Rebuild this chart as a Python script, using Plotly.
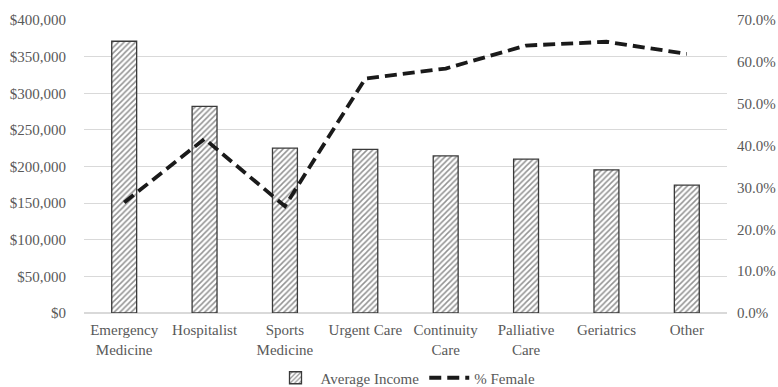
import plotly.graph_objects as go

# Specialty categories (line breaks as drawn under the axis)
specialties = ["Emergency<br>Medicine", "Hospitalist", "Sports<br>Medicine", "Urgent Care",
               "Continuity<br>Care", "Palliative<br>Care", "Geriatrics", "Other"]
avg_income = [371000, 282000, 225000, 223500, 214500, 210000, 195500, 174500]
pct_female = [0.264, 0.416, 0.255, 0.560, 0.584, 0.639, 0.648, 0.619]

income_ticks = list(range(0, 400001, 50000))
income_labels = ["$" + format(v, ",") for v in income_ticks]
pct_ticks = [i / 10 for i in range(0, 8)]
pct_labels = [f"{v*100:.1f}%" for v in pct_ticks]

GRAY_TEXT = "#595959"
FONT = "Liberation Serif, Times New Roman, serif"
FS = 15

fig = go.Figure()

fig.add_trace(go.Bar(
    x=specialties, y=avg_income, name="Average Income",
    marker=dict(
        color="white",
        line=dict(color="#3a3a3a", width=1.3),
        pattern=dict(shape="/", size=4, solidity=0.38, fgcolor="#262626", bgcolor="white"),
    ),
    yaxis="y",
))

fig.add_trace(go.Scatter(
    x=specialties, y=pct_female, name="% Female", mode="lines",
    line=dict(color="#1a1a1a", width=3.8, dash="12px,6px"),
    yaxis="y2",
))

fig.update_layout(
    width=778, height=387,
    margin=dict(l=84, r=51, t=20, b=74, autoexpand=False),
    paper_bgcolor="white", plot_bgcolor="white",
    font=dict(family=FONT, size=FS, color=GRAY_TEXT),
    bargap=0.69,
    showlegend=True,
    legend=dict(orientation="h", x=0.5, xanchor="center",
                yref="container", y=9 / 387, yanchor="middle",
                font=dict(family=FONT, size=FS, color=GRAY_TEXT),
                itemwidth=40, tracegroupgap=0),
    xaxis=dict(showgrid=False, showline=False, ticks="", ticklabelstandoff=6,
               tickfont=dict(family=FONT, size=FS, color=GRAY_TEXT)),
    yaxis=dict(range=[0, 400000], tickvals=income_ticks, ticktext=income_labels,
               showgrid=True, gridcolor="#d9d9d9", gridwidth=1,
               zeroline=True, zerolinecolor="#d9d9d9", zerolinewidth=1.5,
               showline=False, ticks="", ticklen=0, ticklabelstandoff=17,
               tickfont=dict(family=FONT, size=FS, color=GRAY_TEXT)),
    yaxis2=dict(range=[0, 0.7], tickvals=pct_ticks, ticktext=pct_labels,
                overlaying="y", side="right", showgrid=False, zeroline=False,
                showline=False, ticks="", ticklabelstandoff=9,
                tickfont=dict(family=FONT, size=FS, color=GRAY_TEXT)),
)

fig.write_html("out.html")
